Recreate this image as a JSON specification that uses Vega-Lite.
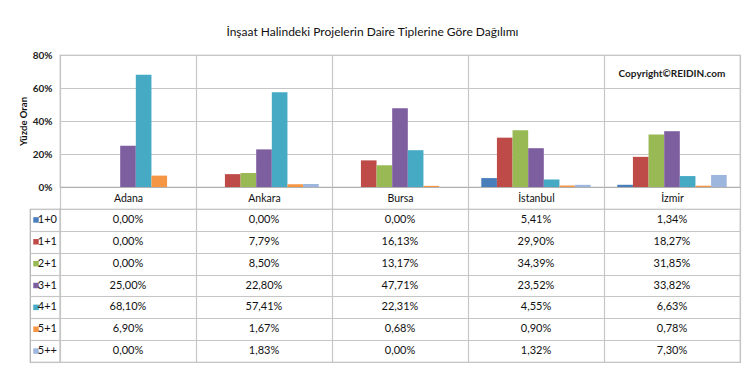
{
  "$schema": "https://vega.github.io/schema/vega-lite/v6.json",
  "padding": {"left": 17, "top": 26, "right": 15, "bottom": 11},
  "background": "white",
  "title": {"text": "İnşaat Halindeki Projelerin Daire Tiplerine Göre Dağılımı", "anchor": "middle", "fontSize": 12, "fontWeight": "normal", "font": "Lato", "color": "#111", "offset": 10, "dx": -7},
  "datasets": {
    "d": [
      {"city": "Adana", "type": "1+0", "value": 0.0},
      {"city": "Adana", "type": "1+1", "value": 0.0},
      {"city": "Adana", "type": "2+1", "value": 0.0},
      {"city": "Adana", "type": "3+1", "value": 0.25},
      {"city": "Adana", "type": "4+1", "value": 0.681},
      {"city": "Adana", "type": "5+1", "value": 0.069},
      {"city": "Adana", "type": "5++", "value": 0.0},
      {"city": "Ankara", "type": "1+0", "value": 0.0},
      {"city": "Ankara", "type": "1+1", "value": 0.0779},
      {"city": "Ankara", "type": "2+1", "value": 0.085},
      {"city": "Ankara", "type": "3+1", "value": 0.228},
      {"city": "Ankara", "type": "4+1", "value": 0.5741},
      {"city": "Ankara", "type": "5+1", "value": 0.0167},
      {"city": "Ankara", "type": "5++", "value": 0.0183},
      {"city": "Bursa", "type": "1+0", "value": 0.0},
      {"city": "Bursa", "type": "1+1", "value": 0.1613},
      {"city": "Bursa", "type": "2+1", "value": 0.1317},
      {"city": "Bursa", "type": "3+1", "value": 0.4771},
      {"city": "Bursa", "type": "4+1", "value": 0.2231},
      {"city": "Bursa", "type": "5+1", "value": 0.0068},
      {"city": "Bursa", "type": "5++", "value": 0.0},
      {"city": "İstanbul", "type": "1+0", "value": 0.0541},
      {"city": "İstanbul", "type": "1+1", "value": 0.299},
      {"city": "İstanbul", "type": "2+1", "value": 0.3439},
      {"city": "İstanbul", "type": "3+1", "value": 0.2352},
      {"city": "İstanbul", "type": "4+1", "value": 0.0455},
      {"city": "İstanbul", "type": "5+1", "value": 0.009},
      {"city": "İstanbul", "type": "5++", "value": 0.0132},
      {"city": "İzmir", "type": "1+0", "value": 0.0134},
      {"city": "İzmir", "type": "1+1", "value": 0.1827},
      {"city": "İzmir", "type": "2+1", "value": 0.3185},
      {"city": "İzmir", "type": "3+1", "value": 0.3382},
      {"city": "İzmir", "type": "4+1", "value": 0.0663},
      {"city": "İzmir", "type": "5+1", "value": 0.0078},
      {"city": "İzmir", "type": "5++", "value": 0.073}
    ],
    "types": [
      {"type": "1+0"}, {"type": "1+1"}, {"type": "2+1"}, {"type": "3+1"}, {"type": "4+1"}, {"type": "5+1"}, {"type": "5++"}
    ],
    "note": [{"city": "İzmir", "label": "Copyright©REIDIN.com", "pos": 0.685}]
  },
  "columns": 2,
  "spacing": {"row": 22, "column": 0},
  "bounds": "flush",
  "align": "each",
  "concat": [
    {
      "width": 30,
      "height": 132,
      "data": {"values": [{}]},
      "mark": {"type": "text"},
      "encoding": {"text": {"value": ""}},
      "view": {"stroke": null}
    },
    {
      "width": 680,
      "height": 132,
      "layer": [
        {
          "data": {"name": "d"},
          "mark": {"type": "bar"},
          "encoding": {
            "x": {"field": "city", "type": "nominal", "sort": null,
                  "scale": {"paddingInner": 0, "paddingOuter": 0},
                  "axis": {"title": null, "orient": "bottom", "grid": true, "gridColor": "#c6c6c6", "gridWidth": 1.2, "tickBand": "extent", "ticks": true, "tickSize": 22, "tickColor": "#c6c6c6", "tickWidth": 1.2, "domainColor": "#b0b0b0", "domainWidth": 1.2, "labelAngle": 0, "labelPadding": -11, "labelBaseline": "middle", "labelFont": "Lato", "labelFontSize": 10.5, "labelColor": "#111"}},
            "xOffset": {"field": "type", "type": "nominal", "sort": null, "scale": {"paddingInner": 0, "paddingOuter": 0.85}},
            "y": {"field": "value", "type": "quantitative",
                  "scale": {"domain": [0, 0.8], "nice": false},
                  "axis": {"title": "Yüzde Oran", "titleFont": "Lato", "titleFontSize": 9.5, "titleFontWeight": "bold", "titleColor": "#111", "titlePadding": 4, "values": [0, 0.2, 0.4, 0.6, 0.8], "tickCount": 5, "labelOverlap": false, "format": ".0%", "ticks": false, "domain": false, "labelPadding": 8, "gridColor": "#c6c6c6", "gridWidth": 1.2, "labelFont": "Lato", "labelFontSize": 10, "labelFontWeight": "bold", "labelColor": "#222"}},
            "color": {"field": "type", "type": "nominal",
                      "scale": {"domain": ["1+0", "1+1", "2+1", "3+1", "4+1", "5+1", "5++"],
                                "range": ["#4A7EBB", "#BE4B48", "#98B954", "#7D5FA0", "#46AAC5", "#F59644", "#9DB6DE"]},
                      "legend": null}
          }
        },
        {
          "data": {"name": "note"},
          "mark": {"type": "text", "font": "Lato", "fontSize": 10, "fontWeight": "bold", "color": "#1a1a1a"},
          "encoding": {
            "x": {"field": "city", "type": "nominal", "sort": null},
            "y": {"field": "pos", "type": "quantitative"},
            "text": {"field": "label"}
          }
        }
      ],
      "view": {"stroke": "#b0b0b0", "strokeWidth": 1.2}
    },
    {
      "width": 30,
      "height": 153,
      "data": {"name": "types"},
      "layer": [
        {
          "mark": {"type": "square", "size": 30, "opacity": 1},
          "encoding": {
            "x": {"datum": "sq", "type": "nominal", "scale": {"type": "point", "domain": ["sq", "lbl"], "padding": 0.3333}, "axis": null},
            "y": {"field": "type", "type": "nominal", "sort": null, "scale": {"paddingInner": 0, "paddingOuter": 0}, "axis": {"title": null, "labels": false, "ticks": false, "domain": false, "grid": true, "tickBand": "extent", "gridColor": "#c6c6c6", "gridWidth": 1.2}},
            "color": {"field": "type", "type": "nominal", "scale": {"domain": ["1+0", "1+1", "2+1", "3+1", "4+1", "5+1", "5++"], "range": ["#4A7EBB", "#BE4B48", "#98B954", "#7D5FA0", "#46AAC5", "#F59644", "#9DB6DE"]}, "legend": null}
          }
        },
        {
          "mark": {"type": "text", "align": "right", "dx": 3, "font": "Lato", "fontSize": 11, "color": "#111"},
          "encoding": {
            "x": {"datum": "lbl", "type": "nominal"},
            "y": {"field": "type", "type": "nominal", "sort": null},
            "text": {"field": "type"}
          }
        }
      ],
      "view": {"stroke": "#b0b0b0", "strokeWidth": 1.2}
    },
    {
      "width": 680,
      "height": 153,
      "data": {"name": "d"},
      "mark": {"type": "text", "font": "Lato", "fontSize": 11, "color": "#111"},
      "encoding": {
        "x": {"field": "city", "type": "nominal", "sort": null, "scale": {"paddingInner": 0, "paddingOuter": 0},
              "axis": {"title": null, "labels": false, "ticks": false, "domain": false, "grid": true, "tickBand": "extent", "gridColor": "#c6c6c6", "gridWidth": 1.2}},
        "y": {"field": "type", "type": "nominal", "sort": null, "scale": {"paddingInner": 0, "paddingOuter": 0},
              "axis": {"title": null, "labels": false, "ticks": false, "domain": false, "grid": true, "tickBand": "extent", "gridColor": "#c6c6c6", "gridWidth": 1.2}},
        "text": {"field": "value", "type": "quantitative", "format": ".2%"}
      },
      "view": {"stroke": "#b0b0b0", "strokeWidth": 1.2}
    }
  ],
  "config": {
    "locale": {"number": {"decimal": ",", "thousands": ".", "grouping": [3], "currency": ["", " TL"]}}
  }
}
